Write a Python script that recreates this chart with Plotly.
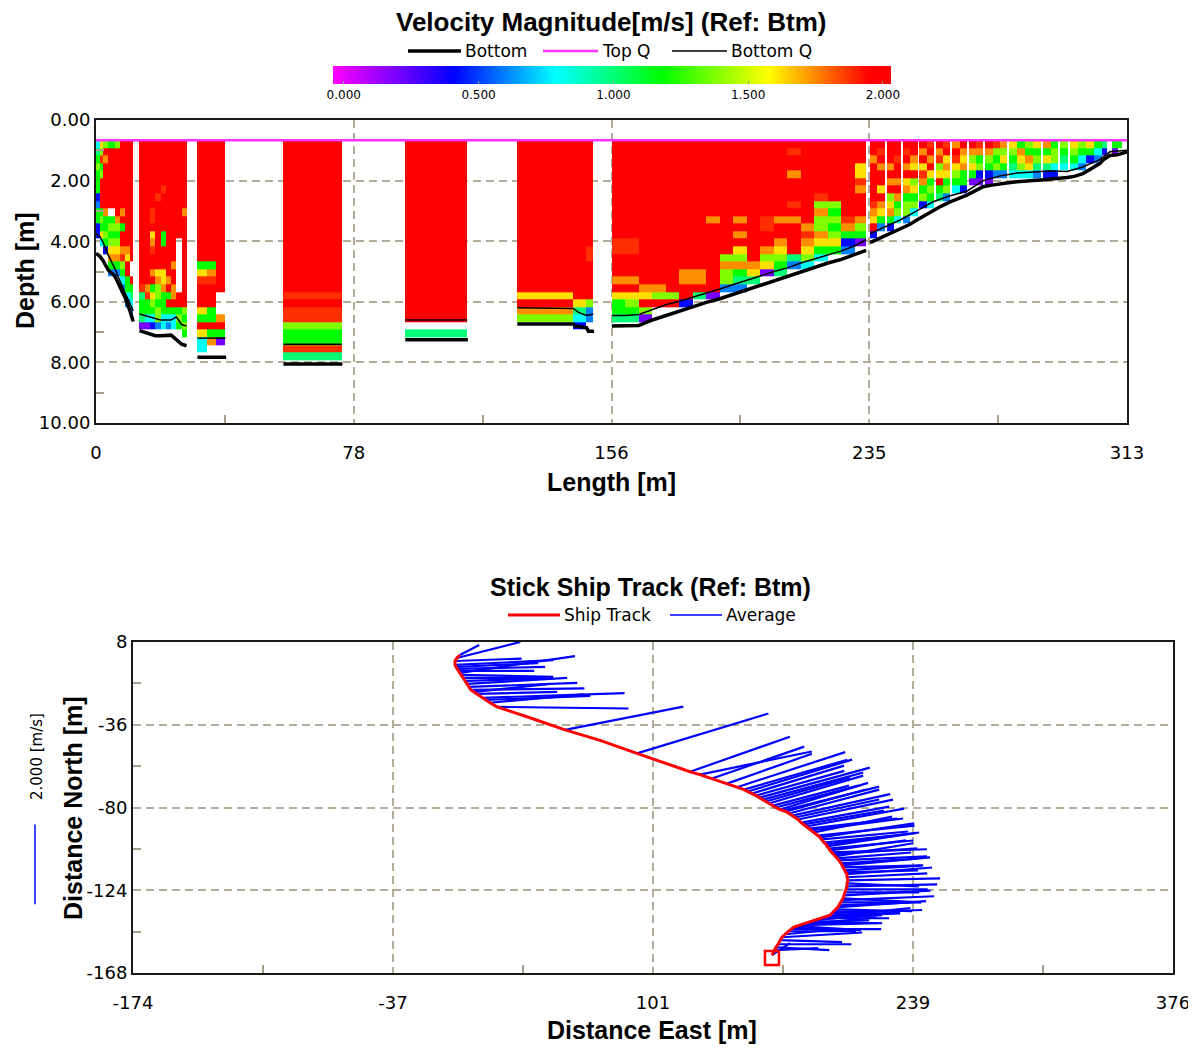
import plotly.graph_objects as go

# page shows the figure with an 8 px body margin; figure pixels = reference pixels - OFF
OFF = 8
FW, FH = 1196 - OFF, 1048 - OFF


def fx(px):
    return (px - OFF) / FW


def fy(py):
    return 1 - (py - OFF) / FH


# ======================= TOP PANEL: velocity magnitude section =======================
LENGTH_RANGE = [0, 313]
DEPTH_RANGE = [10, 0]
length_tickvals = [0, 78.25, 156.5, 234.75, 313]
length_ticktext = ["0", "78", "156", "235", "313"]
length_minor = [39.125, 117.375, 195.625, 273.875]
depth_tickvals = [0, 2, 4, 6, 8, 10]
depth_ticktext = ["0.00", "2.00", "4.00", "6.00", "8.00", "10.00"]
depth_minor = [1, 3, 5, 7, 9]

TOP_Q_DEPTH = 0.67
BIN_TOP = 0.67
BIN_SIZE = 0.25
N_BINS = 30
VEL_MIN, VEL_MAX = -0.04, 2.03
colorbar_tickvals = [0.0, 0.5, 1.0, 1.5, 2.0]
colorbar_ticktext = ["0.000", "0.500", "1.000", "1.500", "2.000"]

# cell colour codes -> velocity magnitude [m/s]
CODE = {"R": 2.2, "q": 1.88, "o": 1.74, "y": 1.62, "l": 1.38, "g": 1.18,
        "s": 1.0, "c": 0.8, "a": 0.6, "b": 0.42, "v": 0.2, "m": 0.0}

# ensembles: column edges [m] and cell codes from the top bin downward ('.' = no data)
seg1_edges = [0, 1.2, 2.2, 3.7, 5.7, 7.2, 8.8, 10.3, 11.3]
seg1_cols = ["csglgggbaggbb", "ylqglRRRRglgyc", "lRoRRRRRRogglgb", "gRRRRRRRR.glglyoga",
             "lRRRRRRRRRolglyoga", "RRRRRRRRRoRgRRoqlgca", "RRRRRRRRRRRRRRoyRRggca",
             "RRRRRRRRRRRRRRRR..Rgsca"]
seg2_edges = [13.2, 14.8, 16.4, 18.0, 19.6, 21.2, 22.8, 24.4, 26.0, 27.5]
seg2_cols = ["RRRRRRRRRRRRRRRRRRRqsggsv", "RRRRRRRRRRRRRRRRRRRoqggcv",
             "RRRRRRRRRqqRyoqRRoRgylgcb", "RRRRRRRqRRRRRRRRRyollglla",
             "RRRRRRqRRRRRggRRRyyogggcc", "RRRRRRRRRRRRRRRRRRoRgRgca",
             "RRRRRRRRRRRRRRRRoRRooRgcc", "RRRRRRRRRRRRR.......RRglg",
             "RRRRRRRRRoRRRRRRRRRRRRlglg"]
seg3_edges = [30.8, 33.6, 36.4, 39.3]
seg3_cols = ["RRRRRRRRRRRRRRRRgyqRRRygRycc", "RRRRRRRRRRRRRRRRgoqRRRggRgo",
             "RRRRRRRRRRRRRRRRRRRR...oRgv"]
seg4_edges = [56.9, 62.8, 68.7, 74.6]
seg4_cols = ["RRRRRRRRRRRRRRRRRRRRqRqqlggqs"] * 3
seg5_edges = [93.9, 100.2, 106.5, 112.7]
seg5_cols = ["RRRRRRRRRRRRRRRRRRRRRRRR.s"] * 3
seg6_edges = [127.9, 132.15, 136.4, 140.65, 144.9, 148.9, 151.0]
seg6_cols = ["RRRRRRRRRRRRRRRRRRRRyRol"] * 4 + ["RRRRRRRRRRRRRRRRRRRRRyscb",
                                                 "RRRRRRRRRRRRRRqqRRRRRlaa"]
seg7_edges = [156.6, 160.7, 164.8, 168.9, 173.0, 177.1, 181.2, 185.3, 189.4, 193.5,
              197.6, 201.7, 205.8, 209.9, 214.0, 218.1, 222.2, 226.3, 230.4, 233.8]
seg7_cols = ["RRRRRRRRRRRRRqqRRRoRyggs", "RRRRRRRRRRRRRqqRRRoRylgs",
             "RRRRRRRRRRRRRRRRRRRoyRlv", "RRRRRRRRRRRRRRRRRRRolR",
             "RRRRRRRRRRRRRRRRRRRRlR", "RRRRRRRRRRRRRRRRRooRRb",
             "RRRRRRRRRRRRRRRRRooRs", "RRRRRRRRRRoRRRRRRRRRv",
             "RRRRRRRRRRRRRRRlolla", "RRRRRRRRRRoRoRylogsa",
             "RRRRRRRRRRRRRRRRoys", "RRRRRRRRRRqqRRolyv",
             "RRRRRRRRRRoRRoylgs", "RqRRoRRRqRoRRRRsa",
             "RRRRRRRRRRRoqoylc", "RRRRRRRqlolloygc",
             "RRRRRRRRlglglyg", "RRRRRRRRRRqogba", "RRRyyqoRRRolgv"]
seg8_edges = [235.0, 237.2, 239.4, 240.0, 242.2, 244.4, 245.0, 247.2, 249.4, 250.0,
              252.2, 254.4, 255.0, 257.2, 259.4, 260.0, 262.2, 264.4, 265.0, 267.2,
              269.4, 270.0, 272.2, 274.4, 276.6, 277.2, 279.6, 282.0, 284.4, 286.8,
              287.4, 289.8, 292.2, 292.8, 295.2, 295.8, 298.2, 300.6, 303.0, 305.4,
              307.0, 308.4, 310.2, 311.6]
seg8_cols = ["RRoRRRRRqoyRb", "RqRoRRyRoyga", "", "RRRoRoRlyogb", "RRqRRoRoglc", "",
             "RqRoRyoglla", "RRoyRlyglc", "", "RoRyqoglb", "qRoRyglgc", "",
             "RoqlyRgs", "qRyoygla", "", "oRqylgc", "Royoggb", "",
             "Rolygv", "qoglbv", "", "Rolgbv", "qlgla", "olyga", "",
             "ylgsc", "goylc", "lgoyc", "yglsa", "", "ogysb", "gllcb", "",
             "lgsc", "", "ylgc", "lgca", "ygb", "gca", "sb", "", "gv", "g"]

# bottom (thick) and bottom-Q (thin) profiles [m]; None separates ensemble groups
bottom_x = [0, 1.2, 2.2, 3.7, 5.7, 7.2, 8.8, 10.3, 11.3, None,
            13.2, 14.8, 16.4, 18.0, 19.6, 21.2, 22.8, 24.4, 26.0, 27.5, None,
            30.8, 39.5, None, 56.9, 74.8, None, 93.9, 112.9, None,
            127.9, 144.9, 145.5, 148.9, 149.5, 151.2, None,
            156.6, 160.7, 164.8, 168.9, 173.0, 177.1, 181.2, 185.3, 189.4, 193.5, 197.6,
            201.7, 205.8, 209.9, 214.0, 218.1, 222.2, 226.3, 230.4, 233.8, None,
            235.0, 238.0, 241.0, 244.1, 247.0, 249.2, 251.5, 254.1, 256.5, 259.3, 262.0,
            264.4, 267.0, 269.3, 272.0, 274.4, 277.0, 279.6, 282.0, 284.5, 287.0, 289.6,
            292.0, 294.8, 297.0, 299.6, 302.0, 304.8, 305.7, 307.8, 310.0, 313.0]
bottom_depth = [4.4, 4.5, 4.65, 4.95, 5.15, 5.5, 5.85, 6.3, 6.65, None,
                6.95, 7.0, 7.05, 7.12, 7.12, 7.1, 7.1, 7.25, 7.4, 7.45, None,
                7.83, 7.83, None, 8.05, 8.05, None, 7.25, 7.25, None,
                6.73, 6.73, 6.8, 6.85, 6.97, 6.97, None,
                6.8, 6.8, 6.78, 6.6, 6.45, 6.32, 6.18, 6.02, 5.9, 5.75, 5.62,
                5.45, 5.3, 5.18, 5.0, 4.87, 4.72, 4.6, 4.45, 4.3, None,
                4.05, 3.9, 3.78, 3.6, 3.45, 3.3, 3.15, 2.98, 2.85, 2.7, 2.58,
                2.48, 2.33, 2.2, 2.15, 2.1, 2.07, 2.04, 2.03, 2.0, 1.98, 1.96,
                1.94, 1.9, 1.86, 1.77, 1.62, 1.43, 1.32, 1.17, 1.15, 1.05]
bottomq_x = [0, 1.2, 2.2, 3.7, 5.7, 7.2, 8.8, 10.3, 11.3, None,
             13.2, 14.8, 16.4, 18.0, 19.6, 21.2, 22.8, 24.4, 26.0, 27.5, None,
             30.8, 39.3, None, 56.9, 74.6, None, 93.9, 112.7, None,
             127.9, 144.9, 146.5, 148.9, 151.0, None,
             156.6, 160.7, 164.8, 168.9, 173.0, 177.1, 181.2, 185.3, 189.4, 193.5, 197.6,
             201.7, 205.8, 209.9, 214.0, 218.1, 222.2, 226.3, 230.4, 233.8, None,
             235.0, 238.0, 241.0, 244.1, 249.2, 254.1, 259.3, 264.4, 269.3, 274.4,
             279.6, 284.5, 289.6, 294.8, 299.6, 304.8, 307.8, 313.0]
bottomq_depth = [3.75, 3.85, 4.05, 4.45, 4.9, 5.3, 5.7, 6.05, 6.3, None,
                 6.4, 6.45, 6.5, 6.55, 6.6, 6.6, 6.6, 6.5, 6.75, 6.8, None,
                 7.2, 7.2, None, 7.4, 7.4, None, 6.6, 6.6, None,
                 6.2, 6.22, 6.35, 6.45, 6.4, None,
                 6.45, 6.45, 6.42, 6.25, 6.1, 5.98, 5.85, 5.7, 5.58, 5.43, 5.3,
                 5.15, 5.0, 4.88, 4.72, 4.58, 4.45, 4.32, 4.15, 3.95, None,
                 3.75, 3.6, 3.45, 3.3, 3.0, 2.7, 2.5, 2.35, 2.0, 1.85,
                 1.75, 1.72, 1.68, 1.7, 1.55, 1.3, 1.05, 1.0]

# ======================= BOTTOM PANEL: stick ship track =======================
EAST_RANGE = [-174, 376]
NORTH_RANGE = [-168, 8]
east_tickvals = [-174, -36.5, 101, 238.5, 376]
east_ticktext = ["-174", "-37", "101", "239", "376"]
east_minor = [-105.25, 32.25, 169.75, 307.25]
north_tickvals = [-168, -124, -80, -36, 8]
north_ticktext = ["-168", "-124", "-80", "-36", "8"]
north_minor = [-146, -102, -58, -14]

track_east = [163.9, 165.0, 166.0, 167.1, 168.1, 169.2, 170.8, 172.4, 174.0, 175.5,
              177.1, 178.7, 180.3, 181.9, 183.5, 185.1, 186.7, 188.2, 189.8, 191.4,
              193.0, 194.6, 195.6, 196.7, 197.8, 198.8, 199.3, 200.4, 200.9, 201.5,
              202.0, 202.5, 203.0, 203.6, 203.6, 204.1, 203.6, 203.6, 203.0, 202.5,
              201.5, 200.9, 200.4, 199.3, 198.3, 197.2, 196.2, 195.6, 194.6, 194.1,
              193.0, 192.5, 191.4, 190.4, 189.3, 188.2, 186.1, 184.5, 183.5, 181.9,
              180.8, 179.3, 177.7, 176.1, 174.5, 172.9, 171.3, 169.7, 168.1, 166.0,
              164.4, 162.3, 160.7, 159.2, 157.6, 155.5, 153.3, 151.2, 149.1, 145.4,
              140.1, 132.2, 125.8, 120.6, 107.3, 92.5, 73.0, 54.5, 35.9,
              18.5, 14.8, 12.7, 11.1, 7.9, 6.3, 4.7, 3.7, 2.6, 1.6, 0.5, -0.5, -1.1,
              -2.1, -2.7, -3.2, -3.7, -3.7, -2.7, -1.1]
track_north = [-158.5, -155.8, -154.3, -152.7, -150.5, -149.0, -147.4, -145.8, -144.7, -143.6,
               -143.1, -142.6, -142.1, -141.5, -141.0, -140.5, -139.9, -139.4, -138.9, -138.3,
               -138.0, -137.3, -136.2, -135.2, -134.1, -133.0, -132.0, -130.4, -129.3, -128.3,
               -126.7, -125.1, -123.5, -121.9, -120.3, -118.7, -117.1, -115.5, -114.5, -113.4,
               -111.8, -110.8, -109.7, -108.1, -107.1, -106.0, -104.9, -103.9, -102.8, -101.8,
               -100.7, -99.6, -98.6, -97.0, -95.9, -94.9, -93.3, -92.2, -91.2, -90.1,
               -89.0, -88.0, -86.4, -85.3, -84.3, -83.2, -82.1, -81.6, -81.1, -80.0,
               -79.0, -77.9, -76.8, -75.8, -74.7, -73.7, -72.6, -71.5, -70.5, -69.2,
               -67.3, -64.6, -62.5, -61.0, -56.2, -51.2, -44.3, -38.7, -32.3,
               -26.5, -24.3, -22.8, -21.7, -19.6, -18.5, -17.5, -15.9, -14.3, -12.7, -11.1,
               -9.5, -8.4, -7.4, -6.3, -5.3, -4.2, -2.1, -0.5, 1.1]
# depth-averaged velocity per ensemble [m/s] (None = no valid average)
vel_east = [0.45, 1.1, 1.33, 1.83, 1.55, 2.0, 1.25, 1.7, 2.25, 1.45,
            1.6, 1.95, 1.83, 1.3, 1.5, 1.75, 2.08, 1.6, 1.7, 1.9,
            2.08, 1.75, 2.25, 1.5, 1.9, 2.2, 2.04, 1.7, 2.3, 1.95,
            2.16, 1.85, 2.04, 2.25, 1.79, 2.3, 2.0, 2.12, 1.8, 1.91,
            2.0, 2.2, 1.91, 2.2, 1.85, 1.95, 2.1, 2.37, 1.9, 2.1,
            2.3, 2.25, 2.0, 2.15, 2.35, 2.41, 1.95, 2.3, 2.2, 2.45,
            2.0, 2.2, 2.37, 2.1, 2.45, 2.25, 2.0, 2.4, 2.2, 2.05,
            1.9, 2.35, 2.1, 2.5, 2.74, 2.2, 2.3, 2.6, 2.58, 2.7,
            2.12, 2.3, 2.79, 2.49, None, 3.28, None, 2.95, None,
            3.28, 2.33, 2.6, 3.53, 2.0, 1.9, 2.83, 2.7, 2.5, 1.8, 2.08, 2.3, 2.87,
            1.9, 2.2, 2.05, 2.45, 1.66, 1.58, 0.48]
vel_north = [0.3, 0.05, -0.07, 0.0, -0.05, 0.12, 0.12, 0.0, 0.0, -0.1,
             -0.1, 0.05, 0.17, 0.0, 0.05, -0.05, 0.21, 0.1, 0.0, 0.1,
             0.21, 0.05, 0.08, 0.0, -0.05, 0.15, 0.08, 0.0, 0.1, -0.1,
             0.12, 0.0, 0.0, 0.05, -0.08, 0.05, 0.1, 0.17, 0.05, 0.12,
             0.05, 0.2, 0.12, 0.1, 0.15, 0.33, 0.15, 0.08, 0.25, 0.2,
             0.35, 0.29, 0.2, 0.2, 0.35, 0.25, 0.4, 0.3, 0.25, 0.45,
             0.35, 0.4, 0.5, 0.45, 0.54, 0.6, 0.55, 0.6, 0.67, 0.55,
             0.5, 0.7, 0.6, 0.68, 0.75, 0.62, 0.7, 0.8, 0.75, 0.88,
             0.75, 0.8, 0.58, 0.88, None, 1.0, None, 0.58, None,
             -0.04, 0.21, 0.1, 0.12, 0.05, 0.2, 0.04, 0.1, 0.15, 0.05, 0.0, -0.05, 0.42,
             0.0, 0.05, 0.1, 0.12, 0.06, 0.4, 0.25]
STICK_SCALE = 21.2      # metres of stick per 1 m/s
SCALE_BAR_SPEED = 2.0   # m/s shown by the scale bar

# ======================= build the figure =======================
fig = go.Figure()

segments = [(seg1_edges, seg1_cols), (seg2_edges, seg2_cols), (seg3_edges, seg3_cols),
            (seg4_edges, seg4_cols), (seg5_edges, seg5_cols), (seg6_edges, seg6_cols),
            (seg7_edges, seg7_cols), (seg8_edges, seg8_cols)]
x_edges, columns = [], []
for edges, cols in segments:
    if not x_edges:
        x_edges.append(edges[0])
    elif edges[0] > x_edges[-1]:
        x_edges.append(edges[0])
        columns.append("")
    x_edges.extend(edges[1:])
    columns.extend(cols)
y_edges = [BIN_TOP + BIN_SIZE * i for i in range(N_BINS + 1)]
z = [[(CODE[c[i]] if (i < len(c) and c[i] != ".") else None) for c in columns]
     for i in range(N_BINS)]

colorscale = [[0.0, "#ff00ff"], [0.216, "#0000ff"], [0.40, "#00ffff"], [0.59, "#00ff00"],
              [0.78, "#ffff00"], [0.96, "#ff0000"], [1.0, "#ff0000"]]

fig.add_trace(go.Heatmap(
    x=x_edges, y=y_edges, z=z, zmin=VEL_MIN, zmax=VEL_MAX, colorscale=colorscale,
    xaxis="x", yaxis="y", hoverinfo="skip", zsmooth=False,
    colorbar=dict(orientation="h", x=fx(612), xanchor="center", y=fy(66), yanchor="top",
                  len=558, lenmode="pixels", thickness=18, thicknessmode="pixels",
                  xpad=0, ypad=0, outlinewidth=0,
                  tickvals=colorbar_tickvals, ticktext=colorbar_ticktext,
                  ticks="inside", ticklen=3, tickcolor="#999999",
                  tickfont=dict(family="DejaVu Sans", size=12, color="black"))))

fig.add_trace(go.Scatter(x=bottomq_x, y=bottomq_depth, mode="lines", xaxis="x", yaxis="y",
                         line=dict(color="black", width=1.5), hoverinfo="skip"))
fig.add_trace(go.Scatter(x=bottom_x, y=bottom_depth, mode="lines", xaxis="x", yaxis="y",
                         line=dict(color="black", width=3.5), hoverinfo="skip"))
fig.add_trace(go.Scatter(x=LENGTH_RANGE, y=[TOP_Q_DEPTH, TOP_Q_DEPTH], mode="lines",
                         xaxis="x", yaxis="y", line=dict(color="#ff33ff", width=2.5),
                         hoverinfo="skip"))

sx, sy = [], []
for e, n, ve, vn in zip(track_east, track_north, vel_east, vel_north):
    if ve is None:
        continue
    sx += [e, e + ve * STICK_SCALE, None]
    sy += [n, n + vn * STICK_SCALE, None]
fig.add_trace(go.Scatter(x=sx, y=sy, mode="lines", xaxis="x2", yaxis="y2",
                         line=dict(color="#0000ff", width=2.2), hoverinfo="skip"))
fig.add_trace(go.Scatter(x=track_east, y=track_north, mode="lines", xaxis="x2", yaxis="y2",
                         line=dict(color="#ff0000", width=3), hoverinfo="skip"))
fig.add_trace(go.Scatter(x=[track_east[0]], y=[track_north[0] - 1.5], mode="markers",
                         xaxis="x2", yaxis="y2", hoverinfo="skip",
                         marker=dict(symbol="square-open", size=14, color="#ff0000",
                                     line=dict(width=2.5, color="#ff0000"))))

GRID = "#b4ac9a"
TICKFONT = dict(family="DejaVu Sans", size=18, color="black")
common = dict(showline=True, mirror=True, linecolor="#1a1a1a", linewidth=2, ticks="",
              showgrid=True, gridcolor=GRID, gridwidth=1.5, griddash="8px,5px",
              zeroline=False, tickfont=TICKFONT, fixedrange=True)
minor_style = dict(ticks="inside", ticklen=8, tickcolor="#a89f8a", tickwidth=1.5,
                   showgrid=False)

fig.update_layout(
    width=FW, height=FH, margin=dict(l=0, r=0, t=0, b=0, autoexpand=False),
    paper_bgcolor="white", plot_bgcolor="white", showlegend=False, hovermode=False,
    xaxis=dict(domain=[fx(96), fx(1127)], range=LENGTH_RANGE, anchor="y",
               tickmode="array", tickvals=length_tickvals, ticktext=length_ticktext,
               ticklabelstandoff=12, minor=dict(tickvals=length_minor, **minor_style),
               **common),
    yaxis=dict(domain=[fy(423), fy(120)], range=DEPTH_RANGE, anchor="x",
               tickmode="array", tickvals=depth_tickvals, ticktext=depth_ticktext,
               minor=dict(tickvals=depth_minor, **minor_style), **common),
    xaxis2=dict(domain=[fx(133), fx(1173)], range=EAST_RANGE, anchor="y2",
                tickmode="array", tickvals=east_tickvals, ticktext=east_ticktext,
                ticklabelstandoff=12, minor=dict(tickvals=east_minor, **minor_style),
                **common),
    yaxis2=dict(domain=[fy(973), fy(642)], range=NORTH_RANGE, anchor="x2",
                tickmode="array", tickvals=north_tickvals, ticktext=north_ticktext,
                minor=dict(tickvals=north_minor, **minor_style), **common),
)

BOLD = dict(family="Liberation Sans", size=25, color="black", weight="bold")
LEG = dict(family="DejaVu Sans", size=17, color="black")
ann = []


def text(x, y, s, font, xanchor="center", angle=0):
    ann.append(dict(x=fx(x), y=fy(y), xref="paper", yref="paper", text=s, showarrow=False,
                    xanchor=xanchor, yanchor="middle", font=font, textangle=angle))


text(611, 22, "Velocity Magnitude[m/s] (Ref: Btm)", dict(BOLD, size=26))
text(463, 51, "Bottom", LEG, "left")
text(600, 51, "Top Q", LEG, "left")
text(729, 51, "Bottom Q", LEG, "left")
text(25, 271, "Depth [m]", BOLD, angle=-90)
text(611, 482, "Length [m]", BOLD)
text(651, 587, "Stick Ship Track (Ref: Btm)", BOLD)
text(562, 615, "Ship Track", LEG, "left")
text(724, 615, "Average", LEG, "left")
text(73, 808, "Distance North [m]", BOLD, angle=-90)
text(652, 1030, "Distance East [m]", BOLD)
text(37, 757, "2.000 [m/s]", dict(family="DejaVu Sans", size=15, color="black"), angle=-90)

shapes = []


def legline(x0, x1, y, color, width):
    shapes.append(dict(type="line", xref="paper", yref="paper", x0=fx(x0), x1=fx(x1),
                       y0=fy(y), y1=fy(y), line=dict(color=color, width=width)))


legline(408, 461, 51, "black", 3.5)
legline(543, 598, 51, "#ff33ff", 2.5)
legline(672, 727, 51, "black", 1.5)
legline(508, 560, 615, "#ff0000", 3)
legline(670, 722, 615, "#0000ff", 1.5)
# velocity scale bar: its length is SCALE_BAR_SPEED in stick units on the north axis
shapes.append(dict(type="line", xref="paper", yref="y2", x0=fx(35), x1=fx(35),
                   y0=-131.4, y1=-131.4 + SCALE_BAR_SPEED * STICK_SCALE,
                   line=dict(color="#0000ff", width=1.5)))

fig.update_layout(annotations=ann, shapes=shapes)
fig.write_html("out.html")
